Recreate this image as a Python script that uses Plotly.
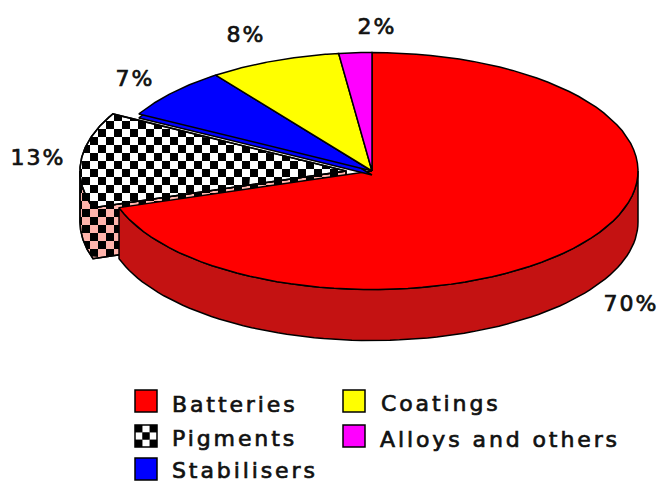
import numpy as np
import plotly.graph_objects as go

categories = ["Batteries", "Pigments", "Stabilisers", "Coatings", "Alloys and others"]
shares = [70, 13, 7, 8, 2]
pct_labels = ["70%", "13%", "7%", "8%", "2%"]

COLORS = ["#FF0000", "#FFFFFF", "#0000FF", "#FFFF00", "#FF00FF"]
RIM = "#C41212"
PINK = "#FFB4AC"
CX, CY, RX, RY, DEPTH = 372.0, 171.0, 266.0, 118.5, 51.0
SHIFT = {1: -26.0}
LABEL_POS = [(631, 305), (38, 159), (135, 80), (246, 36), (377, 28)]
LEG_POS = [(146, 401), (146, 436), (146, 469), (354, 401), (354, 436)]
LEG_TEXT = [(172, 406), (172, 440), (172, 472), (381, 405), (380, 441)]
FONT = dict(family="DejaVu Sans", color="#111111")

edges = np.cumsum([0] + shares) / sum(shares) * 2 * np.pi


def arc(a0, a1, dx=0.0, dy=0.0, n=80):
    t = np.linspace(a0, a1, n)
    return np.c_[CX + dx + RX * np.sin(t), CY + dy - RY * np.cos(t)]


def wedge(i, dy=0.0):
    dx = SHIFT.get(i, 0.0)
    tip = np.array([[CX + dx, CY + dy]])
    return np.vstack([tip, arc(edges[i], edges[i + 1], dx, dy), tip])


def clip_to_cell(poly, x0, y0, x1, y1):
    out = list(map(tuple, poly))
    for axis, lim, keep_gt in ((0, x0, True), (0, x1, False), (1, y0, True), (1, y1, False)):
        cur, out = out, []
        inside = (lambda p: p[axis] >= lim) if keep_gt else (lambda p: p[axis] <= lim)
        for k, p in enumerate(cur):
            q = cur[k - 1]
            if inside(p) != inside(q):
                t = (lim - q[axis]) / (p[axis] - q[axis])
                out.append((q[0] + t * (p[0] - q[0]), q[1] + t * (p[1] - q[1])))
            if inside(p):
                out.append(p)
        if not out:
            return []
    return out


def checks(poly, size=8.0, ox=2.0, oy=1.0):
    xs, ys = [], []
    x_lo, y_lo = poly.min(axis=0)
    x_hi, y_hi = poly.max(axis=0)
    for i in range(int((x_lo - ox) // size), int((x_hi - ox) // size) + 1):
        for j in range(int((y_lo - oy) // size), int((y_hi - oy) // size) + 1):
            if (i + j) % 2:
                continue
            x0, y0 = ox + i * size, oy + j * size
            c = clip_to_cell(poly, x0, y0, x0 + size, y0 + size)
            if c:
                c = c + [c[0]]
                xs += [p[0] for p in c] + [None]
                ys += [p[1] for p in c] + [None]
    return xs, ys


fig = go.Figure()


def add_poly(poly, fill, line_w=1.5):
    fig.add_trace(go.Scatter(
        x=poly[:, 0], y=poly[:, 1], mode="lines", fill="toself", fillcolor=fill,
        line=dict(color="#000000", width=line_w), hoverinfo="skip", showlegend=False))


def add_checks(poly):
    xs, ys = checks(poly)
    fig.add_trace(go.Scatter(x=xs, y=ys, mode="lines", fill="toself", fillcolor="#000000",
                             line=dict(width=0), hoverinfo="skip", showlegend=False))


def outline(poly):
    fig.add_trace(go.Scatter(x=poly[:, 0], y=poly[:, 1], mode="lines",
                             line=dict(color="#000000", width=1.5), hoverinfo="skip", showlegend=False))


# Pigments: side wall, then top
dx = SHIFT[1]
top_arc = arc(edges[1], np.pi * 1.5, dx)
low_arc = arc(edges[1], np.pi * 1.5, dx, DEPTH)
tip = np.array([[CX + dx, CY]])
side = np.vstack([top_arc[::-1], tip, tip + [0, DEPTH], low_arc, top_arc[-1:]])
add_poly(side, PINK)
add_checks(side)
outline(side)
top = wedge(1)
add_poly(top, "#FFFFFF")
add_checks(top)
outline(top)

# Batteries: rim, then top
rim_top = arc(np.pi / 2, edges[1])
rim_low = arc(np.pi / 2, edges[1], 0, DEPTH)
rim = np.vstack([rim_top, rim_low[::-1], rim_top[:1]])
add_poly(rim, RIM)
add_poly(wedge(0), COLORS[0])

# Stabilisers sliver, then the remaining tops
add_poly(wedge(2, 4.0), COLORS[2])
for i in (2, 3, 4):
    add_poly(wedge(i), COLORS[i])

# Percent labels
fig.add_trace(go.Scatter(
    x=[p[0] for p in LABEL_POS], y=[p[1] for p in LABEL_POS], mode="text", text=pct_labels,
    textposition="middle center", textfont=dict(size=22, **FONT), hoverinfo="skip", showlegend=False))

# Legend
fig.add_trace(go.Scatter(
    x=[p[0] for p in LEG_POS], y=[p[1] for p in LEG_POS], mode="markers",
    marker=dict(symbol="square", size=22, color=COLORS, line=dict(color="#000000", width=1.5)),
    hoverinfo="skip", showlegend=False))
px, py = LEG_POS[1]
cx = [px + a * 7.3 for a in (-1, 1, 0, -1, 1)]
cy = [py + b * 7.3 for b in (-1, -1, 0, 1, 1)]
fig.add_trace(go.Scatter(x=cx, y=cy, mode="markers",
                         marker=dict(symbol="square", size=7.5, color="#000000"),
                         hoverinfo="skip", showlegend=False))
fig.add_trace(go.Scatter(
    x=[p[0] for p in LEG_TEXT], y=[p[1] for p in LEG_TEXT], mode="text", text=categories,
    textposition="middle right", textfont=dict(size=22, **FONT), hoverinfo="skip", showlegend=False))

fig.update_layout(
    width=659, height=484, margin=dict(l=0, r=0, t=0, b=0),
    paper_bgcolor="#FFFFFF", plot_bgcolor="#FFFFFF", showlegend=False,
    xaxis=dict(range=[0, 659], visible=False, fixedrange=True),
    yaxis=dict(range=[484, 0], visible=False, fixedrange=True),
)
post = """
document.body.style.margin='0';
document.querySelectorAll('.textpoint text').forEach(function(t){
  t.style.letterSpacing = t.textContent.indexOf('%') >= 0 ? '2px' : '2.9px';
  t.style.stroke = '#111111';
  t.style.strokeWidth = '0.7px';
});
"""
fig.write_html("out.html", post_script=post, config={"displayModeBar": False})
